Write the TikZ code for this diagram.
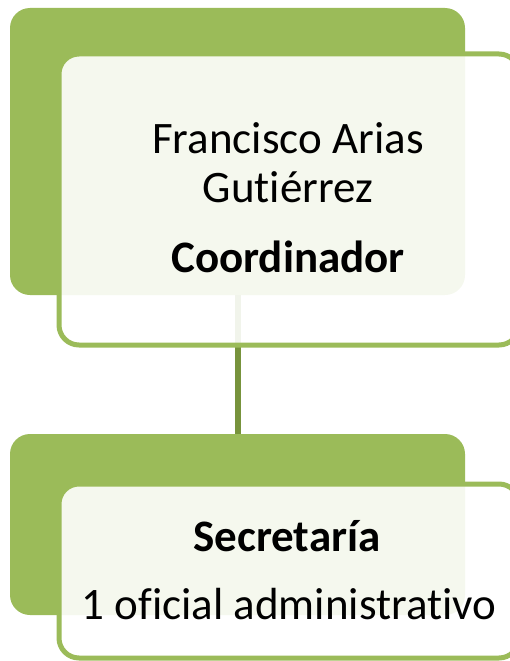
\documentclass[tikz,border=0pt]{standalone}
\usepackage{fontspec}
\setmainfont[Ligatures={NoCommon}]{Carlito}
\definecolor{leaf}{HTML}{9BBB59}
\definecolor{stem}{HTML}{77933C}
\tikzset{
  backbox/.style={rectangle, rounded corners=20pt, fill=leaf, inner sep=0pt},
  frontbox/.style={rectangle, rounded corners=20pt, draw=leaf, line width=5pt,
    fill=white, fill opacity=0.9, inner sep=0pt},
  link/.style={draw=stem, line width=6pt},
  txt/.style={anchor=base, font=\fontsize{45}{54}\selectfont},
}
\begin{document}
\begin{tikzpicture}[x=1pt,y=-1pt]
      \useasboundingbox (0,0) rectangle (510,661);
      \clip (0,0) rectangle (510,661);
      \node[backbox, minimum width=455pt, minimum height=287pt] (topback) at (237.5,151.5) {};
      \node[backbox, minimum width=455pt, minimum height=181pt] (botback) at (237.5,524.5) {};
      \draw[link] (topback.south) -- (botback.north);
      \node[frontbox, minimum width=460pt, minimum height=291pt] (topfront) at (289,199.5) {};
      \node[frontbox, minimum width=460pt, minimum height=174pt] (botfront) at (289,571) {};
      \node[txt] (name1) at (288,153) {Francisco Arias};
      \node[txt] (name2) at (288,202) {Gutiérrez};
      \node[txt] (role1) at (288,272) {\bfseries Coordinador};
      \node[txt] (role2) at (287,551) {\bfseries Secretaría};
      \node[txt] (staff) at (289,619) {1 oficial administrativo};
    \end{tikzpicture}
\end{document}
